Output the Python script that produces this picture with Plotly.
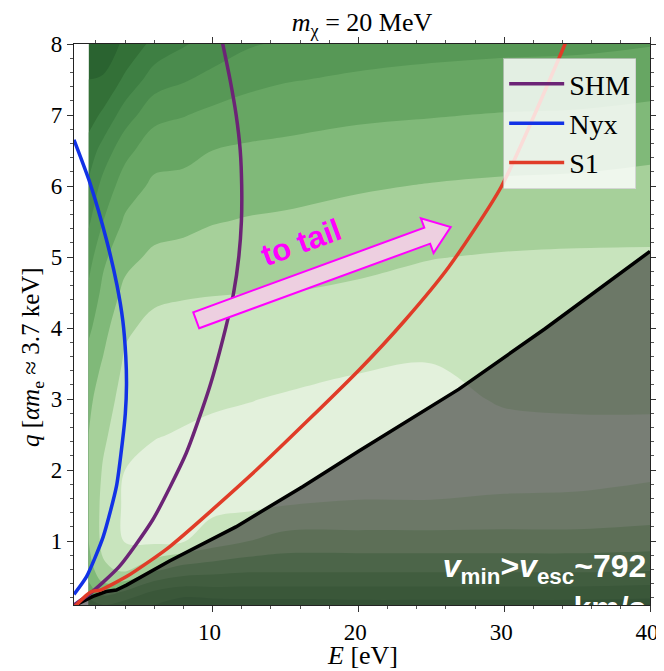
import math
import plotly.graph_objects as go

# ---------------- data ----------------
# background rate map (band level, 0 = darkest green ... 9 = lightest)
E_GRID = [1.5, 2.5, 4, 6, 8, 10, 12.5, 15, 20, 25, 30, 35, 40]
Q_GRID = [0.1, 0.3, 0.6, 1.0, 1.5, 2.0, 2.5, 3.0, 3.5, 4.0, 4.5, 5.0, 5.5, 6.0, 6.5, 7.0, 7.5, 8.0]
LEVEL_E1_5 = [4.5, 5.6, 6.5, 7.0, 7.1, 7.1, 7.0, 6.8, 6.4, 5.8, 5.2, 4.6, 3.85, 3.15, 2.45, 1.55, 1.0, 0.5]
LEVEL_E2_5 = [5.0, 6.5, 7.8, 8.3, 8.3, 8.1, 7.8, 7.45, 7.1, 6.65, 6.25, 5.8, 5.0, 4.35, 3.4, 2.2, 1.1, 0.4]
LEVEL_E4 = [4.5, 6.0, 8.2, 9.05, 9.15, 9.0, 8.7, 8.45, 8.15, 7.85, 7.25, 6.7, 6.15, 5.5, 4.7, 3.5, 2.2, 1.2]
LEVEL_E6 = [4.0, 5.0, 7.2, 9.2, 9.4, 9.25, 8.95, 8.7, 8.5, 8.25, 7.8, 7.2, 6.6, 6.2, 5.6, 4.7, 3.5, 2.3]
LEVEL_E8 = [3.3, 4.6, 6.6, 9.05, 9.3, 9.3, 9.06, 8.8, 8.5, 8.25, 7.93, 7.3, 6.75, 6.27, 5.72, 4.95, 3.9, 2.9]
LEVEL_E10 = [3.4, 4.7, 6.4, 8.5, 9.25, 9.25, 9.15, 8.9, 8.55, 8.25, 7.97, 7.45, 6.95, 6.48, 6.0, 5.25, 4.3, 3.4]
LEVEL_E12_5 = [3.5, 4.7, 6.2, 8.0, 9.2, 9.35, 9.25, 8.97, 8.62, 8.3, 7.99, 7.53, 7.07, 6.62, 6.15, 5.5, 4.7, 3.9]
LEVEL_E15 = [3.5, 4.7, 6.2, 7.6, 9.0, 9.4, 9.35, 9.07, 8.72, 8.36, 8.0, 7.57, 7.13, 6.72, 6.23, 5.64, 4.93, 4.15]
LEVEL_E20 = [3.6, 4.7, 6.2, 7.6, 8.9, 9.5, 9.5, 9.25, 8.9, 8.5, 8.15, 7.75, 7.35, 6.9, 6.4, 5.85, 5.15, 4.5]
LEVEL_E25 = [3.6, 4.7, 6.2, 7.6, 8.9, 9.5, 9.5, 9.3, 9.0, 8.7, 8.33, 7.97, 7.5, 7.05, 6.5, 5.95, 5.3, 4.65]
LEVEL_E30 = [3.6, 4.7, 6.2, 7.6, 8.8, 9.4, 9.3, 8.9, 8.8, 8.65, 8.45, 8.07, 7.6, 7.15, 6.6, 6.05, 5.4, 4.75]
LEVEL_E35 = [3.6, 4.7, 6.2, 7.6, 8.8, 9.3, 9.2, 8.85, 8.75, 8.6, 8.35, 8.1, 7.7, 7.2, 6.65, 6.1, 5.45, 4.8]
LEVEL_E40 = [3.5, 4.6, 6.1, 7.5, 8.6, 9.2, 9.2, 8.85, 8.7, 8.55, 8.35, 8.1, 7.75, 7.3, 6.8, 6.25, 5.6, 4.95]
LEVEL_COLUMNS = [LEVEL_E1_5, LEVEL_E2_5, LEVEL_E4, LEVEL_E6, LEVEL_E8, LEVEL_E10, LEVEL_E12_5,
                 LEVEL_E15, LEVEL_E20, LEVEL_E25, LEVEL_E30, LEVEL_E35, LEVEL_E40]
BAND_COLORS = ["#2a6330", "#337037", "#3e7f43", "#4a8b4d", "#579856",
               "#67a663", "#80b979", "#a6d09a", "#c8e4bd", "#e3f1dc"]

# kinematic boundary v_min > v_esc
BOUND_E = [0.5, 1.8, 2.7, 3.4, 4.1, 7.05, 11.6, 16.2, 20.04, 26.9, 32.8, 40]
BOUND_Q = [0.09, 0.22, 0.29, 0.31, 0.38, 0.72, 1.2, 1.77, 2.27, 3.14, 3.99, 5.08]

# curves
SHM_E = [0.5, 0.7, 1.6, 3.6, 5.9, 8.2, 9.8, 10.9, 11.45, 11.8, 11.98, 12.0, 11.9, 11.62, 11.2, 10.65]
SHM_Q = [0.1, 0.13, 0.26, 0.64, 1.3, 2.24, 3.17, 4.0, 4.5, 5.0, 5.5, 6.0, 6.5, 7.0, 7.5, 8.05]
NYX_E = [0.5, 1.6, 2.73, 3.45, 3.85, 4.05, 4.1, 4.02, 3.82, 3.41, 2.5, 1.36, 0.5]
NYX_Q = [6.65, 6.04, 5.24, 4.6, 4.1, 3.6, 3.2, 2.8, 2.4, 1.77, 1.06, 0.5, 0.25]
S1_E = [0.56, 1.36, 1.7, 2.3, 4.1, 7.05, 13.0, 20.05, 23.2, 26.2, 29.8, 34.3]
S1_Q = [0.08, 0.24, 0.29, 0.31, 0.5, 0.92, 2.0, 3.41, 4.11, 4.86, 5.99, 8.06]

SERIES_NAMES = ["SHM", "Nyx", "S1"]
SERIES_COLORS = ["#6c2476", "#1232e6", "#e03c28"]

X_TICKS = [10, 20, 30, 40]
Y_TICKS = [1, 2, 3, 4, 5, 6, 7, 8]

# ---------------- figure ----------------
SERIF = "Liberation Serif, Times New Roman, serif"
SANS = "Liberation Sans, Arial, sans-serif"

z_rows = [list(r) for r in zip(*LEVEL_COLUMNS)]
n = len(BAND_COLORS)
colorscale = [[k / (n - 1), c] for k, c in enumerate(BAND_COLORS)]

fig = go.Figure()
fig.add_trace(go.Contour(
    x=E_GRID, y=Q_GRID, z=z_rows,
    contours=dict(start=1, end=9, size=1, coloring="fill", showlines=False),
    line=dict(width=0, smoothing=1.0),
    colorscale=colorscale, showscale=False, hoverinfo="skip", showlegend=False,
))
fig.add_trace(go.Scatter(
    x=BOUND_E, y=BOUND_Q, mode="lines",
    line=dict(color="black", width=3.5),
    fill="tozeroy", fillcolor="rgba(35,35,35,0.56)",
    showlegend=False, hoverinfo="skip",
))
for name, ex, qy, col in zip(SERIES_NAMES, [SHM_E, NYX_E, S1_E], [SHM_Q, NYX_Q, S1_Q], SERIES_COLORS):
    fig.add_trace(go.Scatter(
        x=ex, y=qy, mode="lines", name=name, legendgroup=name,
        line=dict(color=col, width=3.5, shape="spline", smoothing=0.6),
        hoverinfo="skip",
    ))

fig.add_trace(go.Scatter(
    x=[39.75], y=[0.83], mode="text",
    text=["<b><i>v</i><sub>min</sub>&gt;<i>v</i><sub>esc</sub>~792<br>km/s</b>"],
    textposition="bottom left",
    textfont=dict(family=SANS, size=32, color="white"),
    cliponaxis=True, showlegend=False, hoverinfo="skip",
))

# block arrow "to tail" (geometry in pixels relative to the tail point)
ARROW_TAIL = (8.88, 4.11)
ARROW_LEN = 271.0
ARROW_ANGLE = math.radians(20.1)
SHAFT_HW, HEAD_HW, HEAD_LEN = 8.5, 18.5, 25.0
ux, uy = math.cos(ARROW_ANGLE), math.sin(ARROW_ANGLE)
nx, ny = -uy, ux
def pt(a, b):
    return (a * ux + b * nx, a * uy + b * ny)
pts = [pt(0, -SHAFT_HW), pt(ARROW_LEN - HEAD_LEN, -SHAFT_HW), pt(ARROW_LEN - HEAD_LEN, -HEAD_HW),
       pt(ARROW_LEN, 0), pt(ARROW_LEN - HEAD_LEN, HEAD_HW), pt(ARROW_LEN - HEAD_LEN, SHAFT_HW),
       pt(0, SHAFT_HW)]
path = "M " + " L ".join(f"{px:.2f},{py:.2f}" for px, py in pts) + " Z"
fig.add_shape(type="path", path=path, xsizemode="pixel", ysizemode="pixel",
              xanchor=ARROW_TAIL[0], yanchor=ARROW_TAIL[1], xref="x", yref="y",
              fillcolor="#edcfe0", line=dict(color="#ff00ff", width=2), layer="above")

fig.add_annotation(x=16.1, y=5.2, xref="x", yref="y", text="<b>to tail</b>",
                   showarrow=False, textangle=-20,
                   font=dict(family=SANS, size=31, color="#ff00ff"))
fig.add_annotation(x=-0.073, y=3.59, xref="paper", yref="y",
                   text="<i>q</i> [<i>αm</i><sub>e</sub> ≈ 3.7 keV]", textangle=-90,
                   showarrow=False, xanchor="center", yanchor="middle",
                   font=dict(family=SERIF, size=25, color="black"))
fig.add_annotation(x=0.5, y=-0.09, xref="paper", yref="paper",
                   text="<i>E</i> [eV]", showarrow=False, xanchor="center", yanchor="middle",
                   font=dict(family=SERIF, size=26, color="black"))

axis_common = dict(showgrid=False, zeroline=False, showline=True, linecolor="#222",
                   linewidth=1.2, mirror="allticks", ticks="outside", ticklen=6,
                   tickcolor="#333", automargin=False,
                   tickfont=dict(family=SERIF, size=23, color="black"))
fig.update_xaxes(range=[0.5, 40], tickvals=X_TICKS, ticklabelshift=-3,
                 minor=dict(dtick=2, tick0=0, ticks="outside", ticklen=3, tickcolor="#555"),
                 **axis_common)
fig.update_yaxes(range=[0.1, 8], tickvals=Y_TICKS,
                 minor=dict(dtick=0.2, tick0=0, ticks="outside", ticklen=3, tickcolor="#555"),
                 **axis_common)

# the page body has an 8px margin; size/margins chosen so the plot area lands on
# the reference frame (x 74..650, y 44..605)
fig.update_layout(
    width=656, height=663, autosize=False,
    margin=dict(l=66, r=14, t=36, b=66, autoexpand=False),
    paper_bgcolor="white", plot_bgcolor="white",
    title=dict(text="<i>m</i><sub>χ</sub> = 20 MeV", x=0.5, xref="paper", xanchor="center",
               y=1 - 14 / 663, yref="container", yanchor="middle",
               font=dict(family=SERIF, size=26, color="black")),
    legend=dict(x=0.976, y=0.975, xanchor="right", yanchor="top",
                bgcolor="rgba(255,255,255,0.82)", bordercolor="rgba(200,200,200,0.7)",
                borderwidth=1, tracegroupgap=0, itemwidth=55,
                font=dict(family=SERIF, size=28, color="black")),
    showlegend=True,
)

fig.write_html("out.html")
